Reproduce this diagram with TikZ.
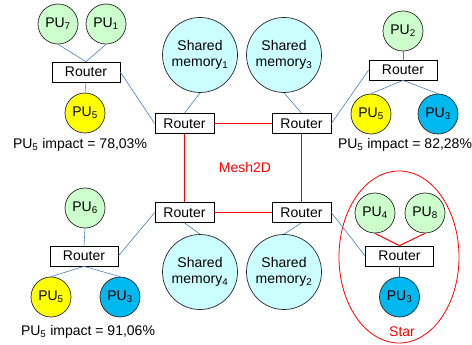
\documentclass[tikz,border=0pt]{standalone}
\usepackage{fontspec}
\setmainfont{Liberation Sans}
\definecolor{pugreen}{HTML}{CCFFCC}
\definecolor{puyellow}{HTML}{FFFF00}
\definecolor{publue}{HTML}{00B8F0}
\definecolor{memcyan}{HTML}{CCFFFF}
\definecolor{linkblue}{HTML}{4A7EBB}
\definecolor{linkred}{HTML}{FF0000}
\begin{document}
\begin{tikzpicture}[x=1pt, y=-1pt,
    every node/.style={font=\fontsize{14}{16}\selectfont},
    pu/.style={draw=black!85, line width=0.7pt, circle, minimum size=40pt, inner sep=0pt},
    shmem/.style={draw=black!85, line width=0.7pt, circle, fill=memcyan, minimum size=75pt, inner sep=0pt, align=center},
    router/.style={draw=black, line width=0.7pt, fill=white, minimum width=68pt, minimum height=20pt, inner sep=0pt},
    crouter/.style={router, minimum width=59pt},
    bluelink/.style={linkblue, line width=0.6pt},
    redlink/.style={linkred, line width=1pt}]
  \useasboundingbox (0,0) rectangle (472,345);
  % top left group
  \node[pu, fill=pugreen] (pu7) at (58,24) {PU\textsubscript{7}};
  \node[pu, fill=pugreen] (pu1) at (106,24) {PU\textsubscript{1}};
  \node[router] (rtl) at (86,72) {Router};
  \node[pu, fill=puyellow] (pu5a) at (85,113) {PU\textsubscript{5}};
  \node (impa) at (80,145) {PU\textsubscript{5} impact = 78,03\%};
  % top right group
  \node[pu, fill=pugreen] (pu2) at (403,31) {PU\textsubscript{2}};
  \node[router] (rtr) at (403,70) {Router};
  \node[pu, fill=puyellow] (pu5b) at (371,114) {PU\textsubscript{5}};
  \node[pu, fill=publue] (pu3b) at (438,114) {PU\textsubscript{3}};
  \node (impb) at (405,145) {PU\textsubscript{5} impact = 82,28\%};
  % bottom left group
  \node[pu, fill=pugreen] (pu6) at (85,208) {PU\textsubscript{6}};
  \node[router] (rbl) at (84,256) {Router};
  \node[pu, fill=puyellow] (pu5c) at (51,297) {PU\textsubscript{5}};
  \node[pu, fill=publue] (pu3c) at (120,297) {PU\textsubscript{3}};
  \node (impc) at (88,332) {PU\textsubscript{5} impact = 91,06\%};
  % Mesh2D in the middle
  \node[shmem] (sm1) at (200,55) {Shared\\memory\textsubscript{1}};
  \node[shmem] (sm3) at (284,55) {Shared\\memory\textsubscript{3}};
  \node[crouter] (rc1) at (184.5,123.5) {Router};
  \node[crouter] (rc2) at (301.5,123.5) {Router};
  \node[crouter] (rc3) at (184.5,212.5) {Router};
  \node[crouter] (rc4) at (301.5,212.5) {Router};
  \node[shmem] (sm4) at (200,272) {Shared\\memory\textsubscript{4}};
  \node[shmem] (sm2) at (284,272) {Shared\\memory\textsubscript{2}};
  \node[text=linkred] (mesh) at (245,167) {Mesh2D};
  % Star group
  \draw[linkred, line width=0.8pt] (399,257) ellipse (60 and 86);
  \node[pu, fill=pugreen] (pu4) at (375,213) {PU\textsubscript{4}};
  \node[pu, fill=pugreen] (pu8) at (425,213) {PU\textsubscript{8}};
  \node[router] (rst) at (399.5,256) {Router};
  \node[pu, fill=publue] (pu3d) at (399.5,297) {PU\textsubscript{3}};
  \node[text=linkred] (star) at (402,332) {Star};
  % blue links
  \draw[bluelink] (pu7.south) -- (rtl.north);
  \draw[bluelink] (pu1.south) -- (rtl.north);
  \draw[bluelink] (rtl.south) -- (pu5a.north);
  \draw[bluelink] (rtl.east) -- (rc1.west);
  \draw[bluelink] (pu2.south) -- (rtr.north);
  \draw[bluelink] (rtr.south) -- (pu5b.north);
  \draw[bluelink] (rtr.south) -- (pu3b.north);
  \draw[bluelink] (rtr.west) -- (rc2.east);
  \draw[bluelink] (pu6.south) -- (rbl.north);
  \draw[bluelink] (rbl.south) -- (pu5c.north);
  \draw[bluelink] (rbl.south) -- (pu3c.north);
  \draw[bluelink] (rbl.east) -- (rc3.west);
  \draw[bluelink] (sm1.south) -- (rc1.north);
  \draw[bluelink] (sm3.south) -- (rc2.north);
  \draw[bluelink] (rc3.south) -- (sm4.north);
  \draw[bluelink] (rc4.south) -- (sm2.north);
  \draw[bluelink] (rc4.east) -- (rst.west);
  % red links
  \draw[redlink] (rc1.east) -- (rc2.west);
  \draw[redlink] (rc3.east) -- (rc4.west);
  \draw[redlink] (rc1.south) -- (rc3.north);
  \draw[redlink] (rc2.south) -- (rc4.north);
  \draw[redlink] (pu4.south) -- (rst.north);
  \draw[redlink] (pu8.south) -- (rst.north);
  \draw[redlink] (rst.south) -- (pu3d.north);
\end{tikzpicture}
\end{document}
